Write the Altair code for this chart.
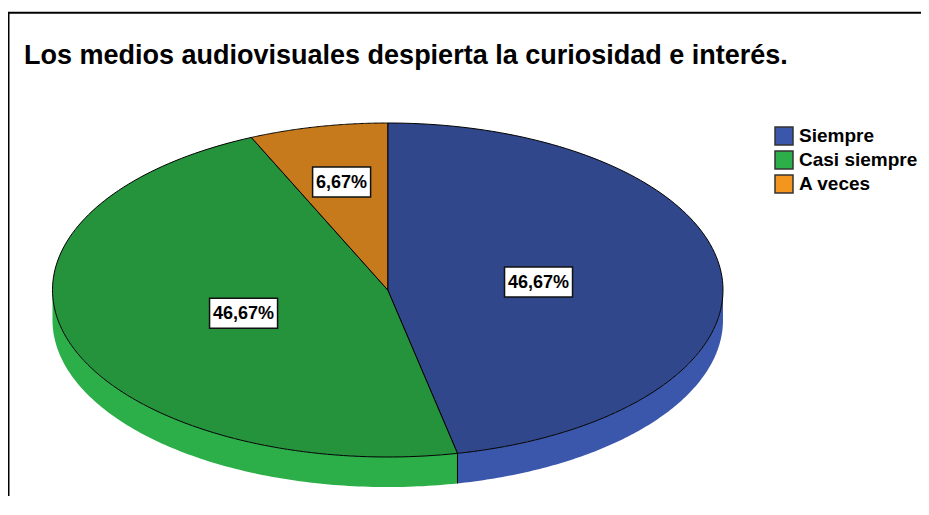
import altair as alt
import pandas as pd

# ---- data ----
categories = ["Siempre", "Casi siempre", "A veces"]
percentages = [46.67, 46.67, 6.67]
labels = ["46,67%", "46,67%", "6,67%"]

TITLE = "Los medios audiovisuales despierta la curiosidad e interés."

# ---- styles ----
legend_colors = ["#3b57ab", "#2cae49", "#f39620"]   # also used for the pie's side wall
top_colors = ["#31478b", "#25923c", "#c67a1b"]      # shaded top face
N = 120          # sampling steps per slice arc
DEPTH = 0.18     # thickness of the 3D wall, in y units

df = pd.DataFrame({
    "category": categories,
    "value": percentages,
    "label": labels,
    "idx": list(range(len(categories))),
})

base = alt.Chart(df).transform_window(
    cum="sum(value)", sort=[alt.SortField("idx", order="ascending")], frame=[None, 0]
).transform_joinaggregate(
    total="sum(value)"
).transform_calculate(
    a0="2*PI*(datum.cum - datum.value)/datum.total"
).transform_calculate(
    a1="2*PI*datum.cum/datum.total"
)

xs = alt.Scale(domain=[-1, 1], range=[44.5, 715], nice=False, zero=False)
ys = alt.Scale(domain=[-1, 1], range=[445, 111], nice=False, zero=False)
X = lambda f: alt.X(f, type="quantitative", scale=xs, axis=None)
Y = lambda f: alt.Y(f, type="quantitative", scale=ys, axis=None)

legend = alt.Legend(
    title=None, orient="none", legendX=766, legendY=114,
    symbolType="square", symbolSize=324, symbolStrokeColor="#333333",
    symbolStrokeWidth=1.5, symbolOpacity=1,
    labelFont="Liberation Sans", labelFontSize=19, labelFontWeight="bold",
    labelColor="black", labelOffset=5, rowPadding=0, padding=0,
)

# side wall (front half of the pie only)
side = base.transform_calculate(
    b0="max(datum.a0, PI/2)"
).transform_calculate(
    b1="min(datum.a1, 3*PI/2)"
).transform_filter(
    "datum.b1 > datum.b0"
).transform_calculate(
    steps=f"sequence(0, {2 * N + 2})"
).transform_flatten(["steps"]).transform_calculate(
    u=f"datum.steps <= {N} ? datum.steps : {2 * N + 1} - datum.steps"
).transform_calculate(
    t=f"datum.b0 + (datum.b1 - datum.b0)*datum.u/{N}"
).transform_calculate(
    px="sin(datum.t)"
).transform_calculate(
    py=f"cos(datum.t) - (datum.steps <= {N} ? 0 : {DEPTH})"
).mark_line(strokeWidth=0).encode(
    x=X("px"), y=Y("py"),
    fill=alt.Fill("category:N", scale=alt.Scale(domain=categories, range=legend_colors), legend=legend),
    detail="category:N",
    order=alt.Order("steps:Q"),
)

# boundaries between slices on the wall
edges = base.transform_filter(
    "datum.a0 >= PI/2 && datum.a0 <= 3*PI/2"
).transform_calculate(
    px="sin(datum.a0)"
).transform_calculate(
    py="cos(datum.a0)"
).transform_calculate(
    py2=f"cos(datum.a0) - {DEPTH}"
).mark_rule(color="black", strokeWidth=1).encode(
    x=X("px"), y=Y("py"), y2="py2:Q"
)

# top face
top = base.transform_calculate(
    steps=f"sequence(-1, {N + 2})"
).transform_flatten(["steps"]).transform_calculate(
    t=f"datum.a0 + (datum.a1 - datum.a0)*clamp(datum.steps, 0, {N})/{N}"
).transform_calculate(
    rr=f"(datum.steps < 0 || datum.steps > {N}) ? 0 : 1"
).transform_calculate(
    px="datum.rr*sin(datum.t)"
).transform_calculate(
    py="datum.rr*cos(datum.t)"
).mark_line(stroke="black", strokeWidth=1, strokeJoin="round").encode(
    x=X("px"), y=Y("py"),
    fill=alt.Fill("category:N", scale=alt.Scale(domain=categories, range=top_colors), legend=None),
    detail="category:N",
    order=alt.Order("steps:Q"),
)

# labels at the slice centroids
lab = base.transform_calculate(
    mid="(datum.a0 + datum.a1)/2"
).transform_calculate(
    half="(datum.a1 - datum.a0)/2"
).transform_calculate(
    r="2*sin(datum.half)/(3*datum.half)"
).transform_calculate(
    lx="datum.r*sin(datum.mid)"
).transform_calculate(
    ly="datum.r*cos(datum.mid)"
).transform_calculate(
    bw="10*length(datum.label) + 8"
).transform_calculate(
    box="'M-1,-' + (30/datum.bw) + 'L1,-' + (30/datum.bw) + 'L1,' + (30/datum.bw) + 'L-1,' + (30/datum.bw) + 'Z'"
).transform_calculate(
    bsize="datum.bw*datum.bw"
)

boxes = lab.mark_point(filled=True, fill="white", stroke="#111111", strokeWidth=1.5, opacity=1).encode(
    x=X("lx"), y=Y("ly"),
    shape=alt.Shape("box:N", scale=None, legend=None),
    size=alt.Size("bsize:Q", scale=None, legend=None),
)
texts = lab.mark_text(font="Liberation Sans", fontSize=18, fontWeight="bold", color="black", dy=1).encode(
    x=X("lx"), y=Y("ly"), text="label:N"
)

# frame lines (left and top)
one = alt.Data(values=[{}])
frame_left = alt.Chart(one).mark_rule(color="black", strokeWidth=2).encode(
    x=alt.value(0.5), y=alt.value(0.7), y2=alt.value(484)
)
frame_top = alt.Chart(one).mark_rule(color="black", strokeWidth=2).encode(
    x=alt.value(0), x2=alt.value(913), y=alt.value(0.7)
)

chart = alt.layer(
    side, edges, top, boxes, texts, frame_left, frame_top
).resolve_scale(
    fill="independent"
).properties(
    width=913, height=484,
    padding={"left": 0, "top": 4, "right": 0, "bottom": 0},
    autosize=alt.AutoSizeParams(type="none"),
    title=alt.TitleParams(
        TITLE, anchor="start", frame="group", dx=16, dy=27, offset=-52.6, baseline="alphabetic",
        font="Liberation Sans", fontSize=27, fontWeight="bold", color="black",
    ),
).configure_view(stroke="transparent")

chart.save("out.html", embed_options={"renderer": "svg", "actions": False})
